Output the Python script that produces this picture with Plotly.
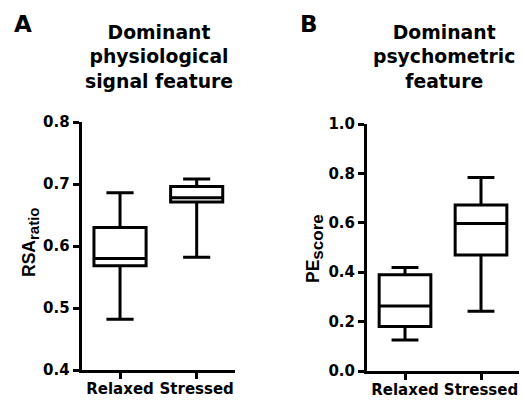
import plotly.graph_objects as go

groups = ["Relaxed", "Stressed"]

# Panel A: RSA ratio (min, Q1, median, Q3, max)
rsa_min = [0.482, 0.582]
rsa_q1 = [0.568, 0.671]
rsa_med = [0.580, 0.678]
rsa_q3 = [0.630, 0.696]
rsa_max = [0.686, 0.708]

# Panel B: PE score
pe_min = [0.126, 0.242]
pe_q1 = [0.180, 0.470]
pe_med = [0.263, 0.597]
pe_q3 = [0.390, 0.672]
pe_max = [0.419, 0.783]

yticks_a = [0.4, 0.5, 0.6, 0.7, 0.8]
yticks_b = [0.0, 0.2, 0.4, 0.6, 0.8, 1.0]

W, H = 523, 400
FONT = "DejaVu Sans"

fig = go.Figure()

def add_boxes(mins, q1s, meds, q3s, maxs, xa, ya):
    for i, g in enumerate(groups):
        fig.add_trace(go.Box(
            x=[i], q1=[q1s[i]], median=[meds[i]], q3=[q3s[i]],
            lowerfence=[mins[i]], upperfence=[maxs[i]],
            width=0.68, whiskerwidth=0.52,
            line=dict(color="black", width=3), fillcolor="white",
            boxpoints=False, showlegend=False, name=g,
            xaxis=xa, yaxis=ya, hoverinfo="skip"))

add_boxes(rsa_min, rsa_q1, rsa_med, rsa_q3, rsa_max, "x", "y")
add_boxes(pe_min, pe_q1, pe_med, pe_q3, pe_max, "x2", "y2")

tickfont = dict(family=FONT, size=15, color="black")
xcommon = dict(range=[-0.5, 1.5], tickvals=[0, 1], ticktext=[f"<b>{g}</b>" for g in groups],
               showline=True, linecolor="black", linewidth=3, automargin=False,
               ticks="outside", ticklen=6, tickwidth=2.5, tickcolor="black",
               ticklabelstandoff=-3,
               showgrid=False, zeroline=False, tickfont=tickfont, fixedrange=True)
ycommon = dict(showline=True, linecolor="black", linewidth=3, automargin=False,
               ticks="outside", ticklen=6, tickwidth=2.5, tickcolor="black",
               showgrid=False, zeroline=False, tickfont=tickfont, fixedrange=True)

fig.update_layout(
    width=W, height=H, autosize=False,
    margin=dict(l=0, r=0, t=0, b=0, pad=0, autoexpand=False),
    paper_bgcolor="white", plot_bgcolor="white",
    xaxis=dict(domain=[81.7 / W, 235 / W], anchor="y", **xcommon),
    yaxis=dict(domain=[1 - 370 / H, 1 - 122 / H], anchor="x", range=[0.4, 0.8],
               tickvals=yticks_a, ticktext=[f"<b>{v:.1f}</b>" for v in yticks_a], **ycommon),
    xaxis2=dict(domain=[367 / W, 519 / W], anchor="y2", **xcommon),
    yaxis2=dict(domain=[1 - 371 / H, 1 - 124 / H], anchor="x2", range=[0.0, 1.0],
                tickvals=yticks_b, ticktext=[f"<b>{v:.1f}</b>" for v in yticks_b], **ycommon),
)

def ann(text, x, y, size, xanchor="center", yanchor="middle", angle=0, family=FONT):
    fig.add_annotation(text=text, x=x / W, y=1 - y / H, xref="paper", yref="paper",
                       xanchor=xanchor, yanchor=yanchor, textangle=angle,
                       showarrow=False, font=dict(family=family, size=size, color="black"))

ann("<b>A</b>", 23, 24, 23)
ann("<b>B</b>", 308.5, 24, 23)
ann("<b>Dominant<br>physiological<br>signal feature</b>", 159, 20, 18.8, yanchor="top")
ann("<b>Dominant<br>psychometric<br>feature</b>", 444, 20, 18.8, yanchor="top")
ann("<b>RSA<sub><span style=\"font-size:15px\">ratio</span></sub></b>", 30, 243, 17.5,
    angle=-90, family="Liberation Sans")
ann("<b>PE<sub><span style=\"font-size:17px\">score</span></sub></b>", 315, 249, 17.5,
    angle=-90, family="Liberation Sans")

fig.write_html("out.html", config={"displayModeBar": False},
               post_script="document.body.style.margin='0';document.body.style.overflow='hidden';")
